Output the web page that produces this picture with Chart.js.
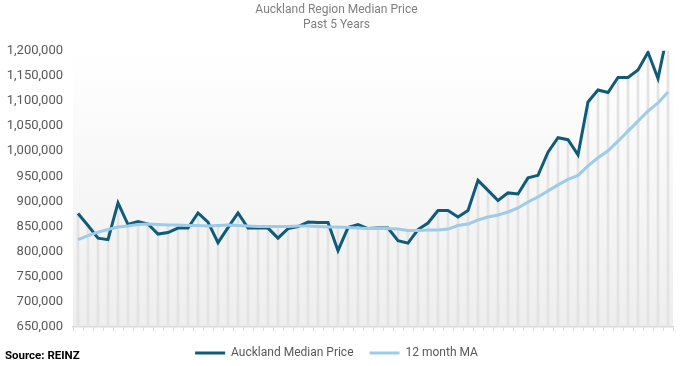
<!DOCTYPE html>
<html>
<head>
<meta charset="utf-8">
<title>Auckland Region Median Price</title>
<script src="https://cdn.jsdelivr.net/npm/chart.js@4.4.1/dist/chart.umd.min.js"></script>
<style>
  html, body { margin: 0; padding: 0; background: #fff; }
  #wrap { position: relative; width: 686px; height: 366px; }
  #source {
    position: absolute; left: 5px; top: 348px;
    font: bold 11.5px Roboto, sans-serif; color: #000;
  }
</style>
</head>
<body>
<div id="wrap">
  <canvas id="chart" width="686" height="366"></canvas>
  <div id="source">Source: REINZ</div>
</div>
<script>
  // 60 months, oldest first
  var months = [];
  for (var i = 0; i < 60; i++) months.push('');

  var medianPrice = [
    876000, 852000, 827000, 824000, 897000, 854000, 860000, 855000, 835000, 838000,
    847000, 847000, 877000, 859000, 818000, 848000, 877000, 847000, 847000, 847000,
    827000, 846000, 850000, 859000, 858000, 858000, 802000, 848000, 854000, 846000,
    847000, 847000, 822000, 817000, 844000, 857000, 882000, 882000, 869000, 882000,
    942000, 922000, 902000, 917000, 915000, 947000, 952000, 998000, 1027000, 1023000,
    993000, 1098000, 1122000, 1117000, 1147000, 1147000, 1162000, 1197000, 1145000, 1240000
  ];

  var movingAvg = [
    824000, 832000, 839000, 844000, 849000, 851000, 854000, 855000, 854000, 853000,
    853000, 852000, 852000, 851000, 852000, 853000, 852000, 851000, 850000, 850000,
    850000, 850000, 851000, 851000, 850000, 849000, 849000, 848000, 847000, 846000,
    846000, 846000, 845000, 842000, 842000, 843000, 843000, 845000, 852000, 855000,
    863000, 869000, 873000, 879000, 887000, 899000, 909000, 921000, 933000, 944000,
    952000, 971000, 987000, 1001000, 1020000, 1040000, 1060000, 1080000, 1096000, 1118000
  ];

  var Y_MIN = 650000;
  var Y_MAX = 1200000;

  var DARK = '#0e5b7a';
  var LIGHT = '#9dcbea';
  var DROP = '#e3e3e3';

  // Excel style drop lines: from the higher of the two series down to the axis
  var dropLines = medianPrice.map(function (v, i) {
    return [Y_MIN, Math.max(v, movingAvg[i])];
  });

  var plotBackground = {
    id: 'plotBackground',
    beforeDraw: function (chart) {
      var a = chart.chartArea, ctx = chart.ctx;
      var g = ctx.createLinearGradient(0, a.top, 0, a.bottom);
      g.addColorStop(0, '#ffffff');
      g.addColorStop(1, '#eeeeee');
      ctx.save();
      ctx.fillStyle = g;
      ctx.fillRect(a.left, a.top, a.right - a.left, a.bottom - a.top);
      ctx.restore();
    }
  };

  new Chart(document.getElementById('chart'), {
    type: 'bar',
    data: {
      labels: months,
      datasets: [
        { type: 'line', label: 'Auckland Median Price', data: medianPrice,
          borderColor: DARK, backgroundColor: DARK, borderWidth: 3,
          pointRadius: 0, tension: 0, order: 1 },
        { type: 'line', label: '12 month MA', data: movingAvg,
          borderColor: LIGHT, backgroundColor: LIGHT, borderWidth: 3,
          pointRadius: 0, tension: 0, order: 0 },
        { type: 'bar', label: 'drop', data: dropLines,
          backgroundColor: DROP, barThickness: 2, order: 2 }
      ]
    },
    options: {
      responsive: false,
      devicePixelRatio: 1,
      animation: false,
      layout: { padding: { left: 0, right: 13, top: 0, bottom: -3 } },
      plugins: {
        title: {
          display: true,
          text: ['Auckland Region Median Price', 'Past 5 Years'],
          color: '#808080',
          font: { family: 'Roboto', size: 12, weight: 'normal', lineHeight: 1.2 },
          padding: { top: 3, bottom: 19 }
        },
        legend: {
          position: 'bottom',
          labels: {
            color: '#595959',
            font: { family: 'Roboto', size: 12 },
            boxWidth: 30, boxHeight: 3, padding: 16,
            filter: function (item) { return item.text !== 'drop'; },
            generateLabels: function (chart) {
              return chart.data.datasets.map(function (ds, i) {
                return { text: ds.label, fillStyle: ds.borderColor, strokeStyle: ds.borderColor,
                  lineWidth: 0, fontColor: '#595959', datasetIndex: i, hidden: false };
              });
            }
          }
        },
        tooltip: { enabled: false }
      },
      scales: {
        x: {
          grid: { offset: true, drawOnChartArea: false, tickLength: 4, color: '#d9d9d9' },
          border: { color: '#d9d9d9', width: 1.5 },
          ticks: { display: false, autoSkip: false }
        },
        y: {
          min: Y_MIN, max: Y_MAX,
          afterFit: function (scale) { scale.width = 73; },
          grid: { display: false, drawTicks: false },
          border: { display: false },
          ticks: {
            stepSize: 50000, padding: 10, color: '#595959',
            font: { family: 'Roboto', size: 13 },
            callback: function (v) { return Number(v).toLocaleString('en-US'); }
          }
        }
      }
    },
    plugins: [plotBackground]
  });
</script>
</body>
</html>
